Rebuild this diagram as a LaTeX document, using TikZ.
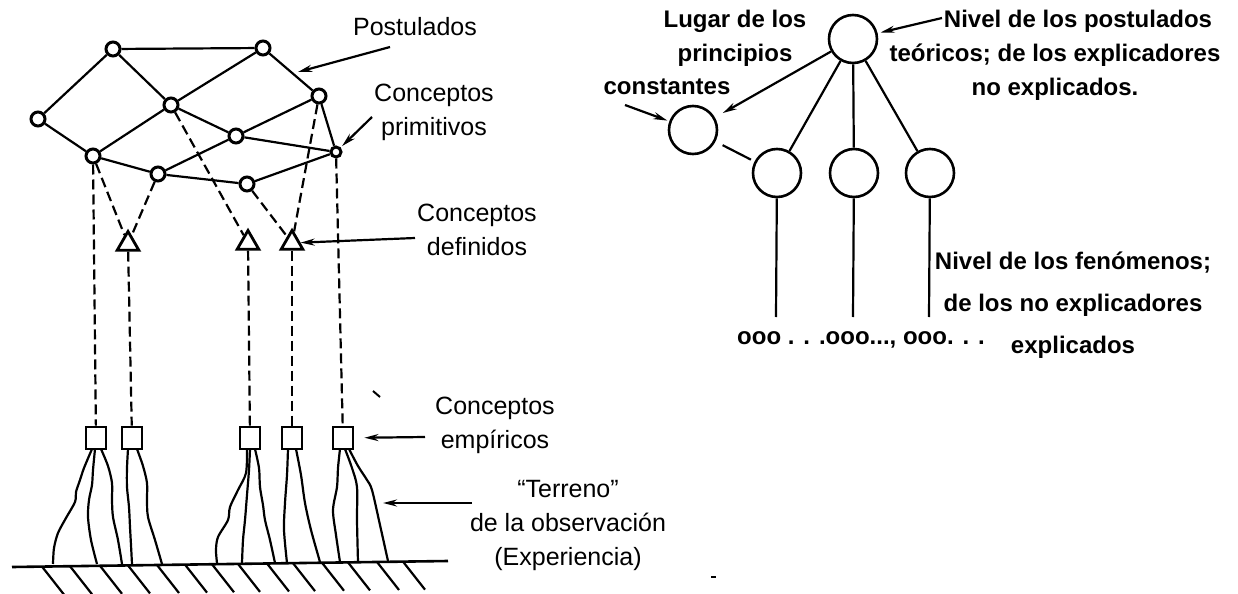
\documentclass[tikz,border=0pt]{standalone}
\usepackage{fontspec}
\setmainfont{Liberation Sans}
\usetikzlibrary{arrows.meta,shapes.geometric}
\begin{document}
\begin{tikzpicture}[x=0.5pt,y=-0.5pt,
  every node/.style={inner sep=0},
  net/.style={line width=1.1pt},
  pnode/.style={circle,draw,line width=1.5pt,fill=white,minimum size=7pt,inner sep=0},
  tri/.style={regular polygon,regular polygon sides=3,draw,line width=1.4pt,minimum size=12.5pt,inner sep=0},
  sq/.style={rectangle,draw,line width=1.4pt,minimum width=10pt,minimum height=11pt,inner sep=0},
  dsh/.style={line width=1.1pt,dash pattern=on 5pt off 2.5pt},
  lab/.style={font=\fontsize{12.5}{17}\selectfont,align=center},
  rlab/.style={font=\bfseries\fontsize{12}{17}\selectfont,align=center},
  ptr/.style={line width=1.1pt,-{Stealth[length=7pt,width=3.5pt]}},
  bigc/.style={circle,draw,line width=1.3pt,minimum size=24pt,inner sep=0},
  rootline/.style={line width=1.1pt,line join=round},
]
\useasboundingbox (0,0) rectangle (1238,594);

% ---------- left: network of concepts ----------
\node[pnode] (A) at (113,49) {};
\node[pnode] (B) at (263,48) {};
\node[pnode] (C) at (38,119) {};
\node[pnode] (D) at (171,105) {};
\node[pnode] (E) at (319,96) {};
\node[pnode] (F) at (236,136) {};
\node[pnode] (G) at (93,156) {};
\node[pnode] (H) at (158,174) {};
\node[pnode] (I) at (247,184) {};
\node[pnode,minimum size=5pt] (J) at (336,152) {};

\draw[net] (A) -- (B);
\draw[net] (A) -- (C);
\draw[net] (A) -- (D);
\draw[net] (D) -- (F);
\draw[net] (F) -- (J);
\draw[net] (B) -- (D);
\draw[net] (D) -- (G);
\draw[net] (B) -- (E);
\draw[net] (E) -- (J);
\draw[net] (E) -- (F);
\draw[net] (F) -- (H);
\draw[net] (C) -- (G);
\draw[net] (G) -- (H);
\draw[net] (H) -- (I);
\draw[net] (I) -- (J);

% defined concepts (triangles)
\node[tri] (t1) at (128,244) {};
\node[tri] (t2) at (248,243) {};
\node[tri] (t3) at (292,243) {};

% empirical concepts (squares)
\node[sq] (s1) at (96,438) {};
\node[sq] (s2) at (132,438) {};
\node[sq] (s3) at (250,438) {};
\node[sq] (s4) at (292,438) {};
\node[sq] (s5) at (343,438) {};

% dashed links
\draw[dsh] (G) -- (s1);
\draw[dsh] (G) -- (t1);
\draw[dsh] (H) -- (t1);
\draw[dsh] (t1) -- (s2);
\draw[dsh] (D) -- (t2);
\draw[dsh] (t2) -- (s3);
\draw[dsh] (I) -- (t3);
\draw[dsh] (E) -- (t3);
\draw[dsh] (t3) -- (s4);
\draw[dsh] (J) -- (s5);
\draw[line width=1pt] (373,391) -- (380,397);

% roots to the ground
\draw[rootline] plot[smooth] coordinates {(92,449) (84,468) (80,480) (76,492) (75,502) (66,518) (58,533) (54,548) (53,564)};
\draw[rootline] plot[smooth] coordinates {(95,449) (93,470) (92,485) (89,500) (88,517) (91,540) (97,564)};
\draw[rootline] plot[smooth] coordinates {(101,449) (108,466) (112,483) (112,500) (113,517) (118,540) (122,564)};
\draw[rootline] plot[smooth] coordinates {(128,449) (127,468) (127,487) (129,507) (130,527) (131,545) (132,564)};
\draw[rootline] plot[smooth] coordinates {(137,449) (143,466) (147,483) (147,500) (148,517) (155,540) (162,564)};
\draw[rootline] plot[smooth] coordinates {(247,449) (246,473) (238,490) (230,507) (228,520) (218,537) (216,550) (217,563)};
\draw[rootline] plot[smooth] coordinates {(250,449) (249,470) (247,495) (245,520) (243,540) (242,563)};
\draw[rootline] plot[smooth] coordinates {(255,449) (259,468) (260,487) (263,505) (265,520) (270,540) (275,563)};
\draw[rootline] plot[smooth] coordinates {(288,449) (287,475) (285,503) (284,530) (287,563)};
\draw[rootline] plot[smooth] coordinates {(296,449) (301,475) (305,503) (311,530) (320,562)};
\draw[rootline] plot[smooth] coordinates {(340,449) (338,468) (337,487) (333,510) (336,535) (340,562)};
\draw[rootline] plot[smooth] coordinates {(345,449) (352,468) (357,487) (357,520) (358,562)};
\draw[rootline] plot[smooth] coordinates {(349,449) (358,466) (367,480) (372,490) (380,525) (388,561)};

% ground
\draw[line width=1.3pt] (12,567) -- (448,561);
\foreach \x in {42,70,100,128,157,185,212,238,267,293,322,348,377,403}
  \draw[line width=1.1pt] (\x,{567-0.0138*(\x-12)}) -- ++(22,28);
\draw[line width=0.8pt] (711,577) -- (716,577);

% labels (left)
\node[lab] (lpost) at (415,27) {Postulados};
\coordinate (pa) at (390,47);
\coordinate (pb) at (298,72);
\draw[ptr] (pa) -- (pb);

\node[lab] (lprim) at (434,112) {Conceptos\\primitivos};
\coordinate (pc) at (372,117);
\draw[ptr,shorten >=1pt] (pc) -- (J);

\node[lab] (ldef) at (477,230) {Conceptos\\definidos};
\coordinate (pd) at (415,238);
\draw[ptr] (pd) -- (t3);

\node[lab] (lemp) at (495,425) {Conceptos\\empíricos};
\coordinate (pe) at (425,437);
\draw[ptr,shorten >=5pt] (pe) -- (s5);

\node[lab] (lterr) at (568,525) {“Terreno”\\de la observación\\(Experiencia)};
\coordinate (pf) at (472,503);
\coordinate (pg) at (383,503);
\draw[ptr] (pf) -- (pg);

% ---------- right: levels ----------
\node[bigc] (T) at (853,39) {};
\node[bigc] (K) at (693,130) {};
\node[bigc] (L1) at (777,173) {};
\node[bigc] (L2) at (854,173) {};
\node[bigc] (L3) at (930,173) {};

\draw[net] (T) -- (L1);
\draw[net] (T) -- (L2);
\draw[net] (T) -- (L3);
\draw[ptr,shorten >=4.5pt] (T) -- (K);
\draw[net,shorten <=4pt,shorten >=2pt] (K) -- (L1);

\coordinate (v1) at (776,317);
\coordinate (v2) at (853,317);
\coordinate (v3) at (929,317);
\draw[net] (L1) -- (v1);
\draw[net] (L2) -- (v2);
\draw[net] (L3) -- (v3);

\node[rlab] (lugar) at (735,38) {Lugar de los\\principios};
\node[rlab] (const) at (667,87) {constantes};
\coordinate (pk) at (625,105);
\draw[ptr,shorten >=1pt] (pk) -- (K);

\node[rlab] (nivt) at (1055,55) {\hspace*{23pt}Nivel de los postulados\\teóricos; de los explicadores\\no explicados.};
\coordinate (pt) at (942,18);
\draw[ptr,shorten >=1.5pt] (pt) -- (T);

\node[rlab] (ooo) at (861,340) {ooo . . .ooo..., ooo. . .};
\node[rlab,font=\bfseries\fontsize{12}{21}\selectfont] (nivf) at (1073,305) {Nivel de los fenómenos;\\de los no explicadores\\explicados};
\end{tikzpicture}
\end{document}
